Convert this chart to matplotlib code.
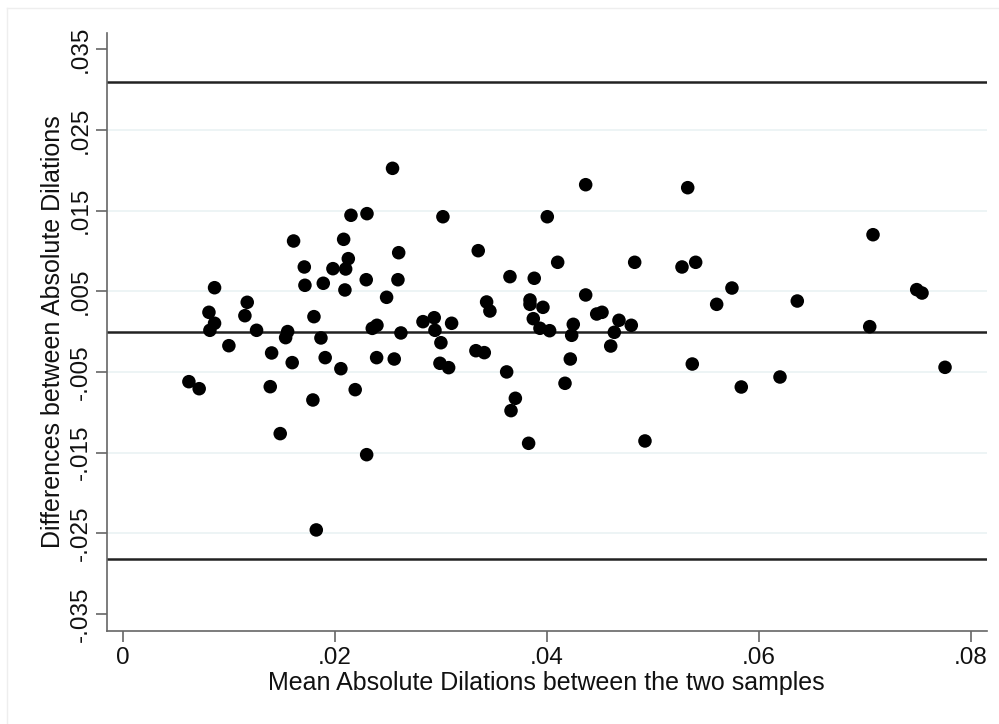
import numpy as np
import matplotlib
matplotlib.use('Agg')
import matplotlib.pyplot as plt
from matplotlib.lines import Line2D

plt.rcParams['font.family'] = ['Liberation Sans', 'DejaVu Sans']

# Bland-Altman: media absoluta vs diferencia
media = [0.02545, 0.02153, 0.02304, 0.01612, 0.02084, 0.02128, 0.02603, 0.01713, 0.01983, 0.02103,
         0.01719, 0.01892, 0.02096, 0.02297, 0.02596, 0.00867, 0.01175, 0.00814, 0.01153, 0.00867,
         0.00823, 0.01263, 0.01804, 0.02489, 0.01556, 0.01537, 0.01870, 0.02398, 0.02354, 0.02624,
         0.02832, 0.01002, 0.01405, 0.01599, 0.01910, 0.02058, 0.02395, 0.02561, 0.00625, 0.00722,
         0.01392, 0.01794, 0.02193, 0.01486, 0.02301, 0.01826, 0.04366, 0.03020, 0.04004, 0.03353,
         0.04102, 0.04828, 0.03652, 0.03881, 0.04366, 0.03432, 0.03463, 0.03841, 0.03841, 0.03963,
         0.03872, 0.03935, 0.04026, 0.04470, 0.04520, 0.04680, 0.04796, 0.04636, 0.04249, 0.04234,
         0.02938, 0.02945, 0.03102, 0.03001, 0.03331, 0.03410, 0.02992, 0.03074, 0.03621, 0.03703,
         0.03662, 0.03828, 0.04221, 0.04171, 0.04602, 0.04925, 0.05328, 0.07075, 0.05274, 0.05403,
         0.05745, 0.05601, 0.06361, 0.07487, 0.07537, 0.07044, 0.05371, 0.05833, 0.06198, 0.07754]

diferencia = [0.02024, 0.01442, 0.01462, 0.01123, 0.01144, 0.00904, 0.00978, 0.00801, 0.00780, 0.00776,
              0.00574, 0.00599, 0.00516, 0.00643, 0.00643, 0.00544, 0.00363, 0.00239, 0.00197, 0.00103,
              0.00016, 0.00016, 0.00185, 0.00425, 0.00000, -0.00075, -0.00079, 0.00078, 0.00040, -0.00017,
              0.00123, -0.00175, -0.00265, -0.00385, -0.00323, -0.00460, -0.00323, -0.00340, -0.00621, -0.00708,
              -0.00683, -0.00848, -0.00720, -0.01265, -0.01526, -0.02459, 0.01821, 0.01424, 0.01424, 0.01003,
              0.00859, 0.00859, 0.00681, 0.00661, 0.00454, 0.00367, 0.00255, 0.00392, 0.00338, 0.00301,
              0.00160, 0.00041, 0.00011, 0.00218, 0.00239, 0.00140, 0.00078, -0.00009, 0.00090, -0.00046,
              0.00172, 0.00016, 0.00103, -0.00138, -0.00237, -0.00261, -0.00393, -0.00447, -0.00500, -0.00827,
              -0.00980, -0.01385, -0.00340, -0.00641, -0.00179, -0.01356, 0.01784, 0.01201, 0.00801, 0.00859,
              0.00540, 0.00338, 0.00379, 0.00520, 0.00478, 0.00061, -0.00402, -0.00687, -0.00563, -0.00443]

# lineas de referencia (limites y cero)
lineas_ref = [0.0310, 0.0, -0.02815]

yticks = [0.035, 0.025, 0.015, 0.005, -0.005, -0.015, -0.025, -0.035]
ytick_labels = ['.035', '.025', '.015', '.005', '-.005', '-.015', '-.025', '-.035']
xticks = [0, 0.02, 0.04, 0.06, 0.08]
xtick_labels = ['0', '.02', '.04', '.06', '.08']
grid_y = [0.025, 0.015, 0.005, -0.005, -0.015, -0.025]

fig = plt.figure(figsize=(9.99, 7.24), dpi=100)
ax = fig.add_axes([0.1068, 0.1289, 0.8809, 0.8251])

for g in grid_y:
    ax.axhline(g, color='#eaf2f3', lw=1.2, zorder=0)
for r in lineas_ref:
    ax.axhline(r, color='#222222', lw=1.8, zorder=1)

ax.scatter(media, diferencia, s=95, color='black', edgecolors='none', zorder=3)

ax.set_xlim(-0.0015, 0.08147)
ax.set_ylim(-0.03708, 0.03698)

ax.set_xticks(xticks)
ax.set_xticklabels(xtick_labels)
ax.set_yticks(yticks)
ax.set_yticklabels(ytick_labels, rotation=90, va='center')

for s in ['top', 'right']:
    ax.spines[s].set_visible(False)
for s in ['left', 'bottom']:
    ax.spines[s].set_color('#666666')
    ax.spines[s].set_linewidth(1.2)

ax.tick_params(axis='both', direction='out', length=8, width=1.2, color='#666666',
               labelsize=17.5, labelcolor='#111111')
ax.tick_params(axis='y', pad=3)
ax.tick_params(axis='x', pad=4)

ax.set_xlabel('Mean Absolute Dilations between the two samples', fontsize=18, color='#111111', labelpad=1)
ax.set_ylabel('Differences between Absolute Dilations', fontsize=18, color='#111111', labelpad=3)

# marco tenue del grafico
fig.add_artist(Line2D([0.007, 1.0], [0.989, 0.989], transform=fig.transFigure, color='#eeeeee', lw=1.0))
fig.add_artist(Line2D([0.007, 0.007], [0.0, 0.989], transform=fig.transFigure, color='#eeeeee', lw=1.0))

fig.savefig('out.png', dpi=100)
